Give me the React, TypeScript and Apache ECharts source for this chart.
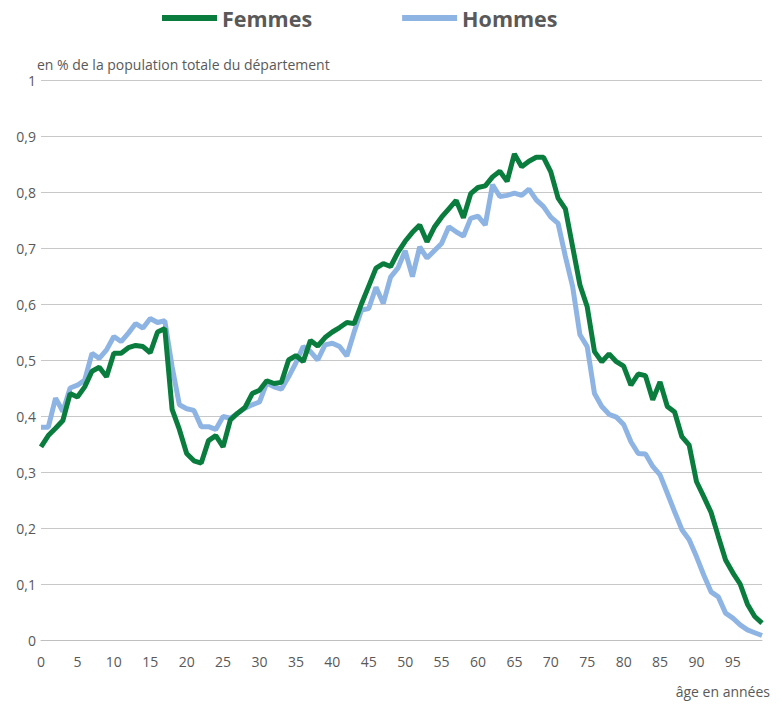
import React, { useEffect, useRef } from "react";
import * as echarts from "echarts";

const ages: string[] = Array.from({ length: 100 }, (_, i) => String(i));

const femmes: number[] = [
  0.345, 0.365, 0.378, 0.392, 0.44, 0.434, 0.452, 0.48, 0.487, 0.47,
  0.512, 0.512, 0.522, 0.526, 0.524, 0.513, 0.55, 0.556, 0.412, 0.376,
  0.333, 0.32, 0.316, 0.356, 0.365, 0.345, 0.393, 0.405, 0.415, 0.44,
  0.446, 0.463, 0.458, 0.46, 0.5, 0.508, 0.497, 0.535, 0.525, 0.54,
  0.55, 0.558, 0.567, 0.565, 0.6, 0.632, 0.664, 0.672, 0.667, 0.692,
  0.712, 0.728, 0.741, 0.711, 0.737, 0.755, 0.77, 0.785, 0.754, 0.797,
  0.808, 0.811, 0.827, 0.837, 0.819, 0.868, 0.845, 0.855, 0.862, 0.862,
  0.836, 0.789, 0.77, 0.702, 0.634, 0.595, 0.515, 0.497, 0.511, 0.497,
  0.489, 0.455, 0.475, 0.472, 0.429, 0.461, 0.417, 0.407, 0.363, 0.348,
  0.283, 0.256, 0.228, 0.185, 0.143, 0.12, 0.1, 0.064, 0.042, 0.03,
];

const hommes: number[] = [
  0.38, 0.38, 0.432, 0.408, 0.45, 0.455, 0.464, 0.512, 0.503, 0.518,
  0.542, 0.533, 0.548, 0.565, 0.557, 0.574, 0.567, 0.57, 0.488, 0.42,
  0.413, 0.41, 0.381, 0.381, 0.376, 0.399, 0.396, 0.405, 0.414, 0.42,
  0.425, 0.459, 0.452, 0.448, 0.47, 0.495, 0.524, 0.515, 0.5, 0.527,
  0.53, 0.524, 0.507, 0.55, 0.589, 0.592, 0.63, 0.601, 0.648, 0.664,
  0.695, 0.649, 0.702, 0.682, 0.695, 0.708, 0.738, 0.729, 0.721, 0.753,
  0.757, 0.741, 0.813, 0.792, 0.794, 0.798, 0.794, 0.805, 0.786, 0.774,
  0.755, 0.744, 0.685, 0.631, 0.545, 0.524, 0.44, 0.417, 0.403, 0.398,
  0.385, 0.354, 0.333, 0.332, 0.31, 0.295, 0.262, 0.229, 0.197, 0.179,
  0.149, 0.116, 0.086, 0.077, 0.048, 0.039, 0.027, 0.018, 0.013, 0.008,
];

const seriesNames = ["Femmes", "Hommes"];
const yTitle = "en % de la population totale du département";
const xTitle = "âge en années";

const GREEN = "#0A7D3E";
const BLUE = "#8EB4E3";
const TEXT = "#595959";
const FONT = "'Open Sans', 'Noto Sans', sans-serif";

export default function App() {
  const ref = useRef<HTMLDivElement>(null);
  useEffect(() => {
    if (!ref.current) return;
    const chart = echarts.init(ref.current, undefined, { renderer: "svg" });
    chart.setOption({
      animation: false,
      backgroundColor: "#ffffff",
      textStyle: { fontFamily: FONT },
      legend: {
        data: seriesNames,
        left: 157,
        top: 2,
        icon: "rect",
        itemWidth: 55,
        itemHeight: 6,
        itemGap: 90,
        textStyle: { fontSize: 21.5, fontWeight: "bold", color: TEXT, fontFamily: FONT },
      },
      grid: { left: 41, right: 20, top: 80, bottom: 64, containLabel: false },
      graphic: [
        {
          type: "text",
          left: 37,
          top: 57,
          style: { text: yTitle, fill: TEXT, fontSize: 14, fontFamily: FONT },
        },
        {
          type: "text",
          right: 12,
          top: 684,
          style: { text: xTitle, fill: TEXT, fontSize: 14, fontFamily: FONT },
        },
      ],
      xAxis: {
        type: "category",
        data: ages,
        boundaryGap: false,
        axisLine: { lineStyle: { color: "#BFBFBF", width: 1 } },
        axisTick: { show: false },
        axisLabel: { interval: 4, color: TEXT, fontSize: 14, margin: 14, fontFamily: FONT },
        splitLine: { show: false },
      },
      yAxis: {
        type: "value",
        min: 0,
        max: 1,
        interval: 0.1,
        axisLine: { show: false },
        axisTick: { show: false },
        axisLabel: {
          color: TEXT,
          fontSize: 14,
          margin: 5,
          fontFamily: FONT,
          formatter: (v: number) => (Math.round(v * 10) / 10).toString().replace(".", ","),
        },
        splitLine: { lineStyle: { color: "#C8C8C8", width: 1 } },
      },
      series: [
        {
          name: seriesNames[0],
          type: "line",
          data: femmes,
          showSymbol: false,
          symbol: "none",
          itemStyle: { color: GREEN },
          lineStyle: { color: GREEN, width: 5 },
          z: 3,
        },
        {
          name: seriesNames[1],
          type: "line",
          data: hommes,
          showSymbol: false,
          symbol: "none",
          itemStyle: { color: BLUE },
          lineStyle: { color: BLUE, width: 5 },
          z: 2,
        },
      ],
    });
    return () => chart.dispose();
  }, []);
  return (
    <div
      ref={ref}
      style={{ position: "fixed", left: 0, top: 0, width: 782, height: 704 }}
    />
  );
}
